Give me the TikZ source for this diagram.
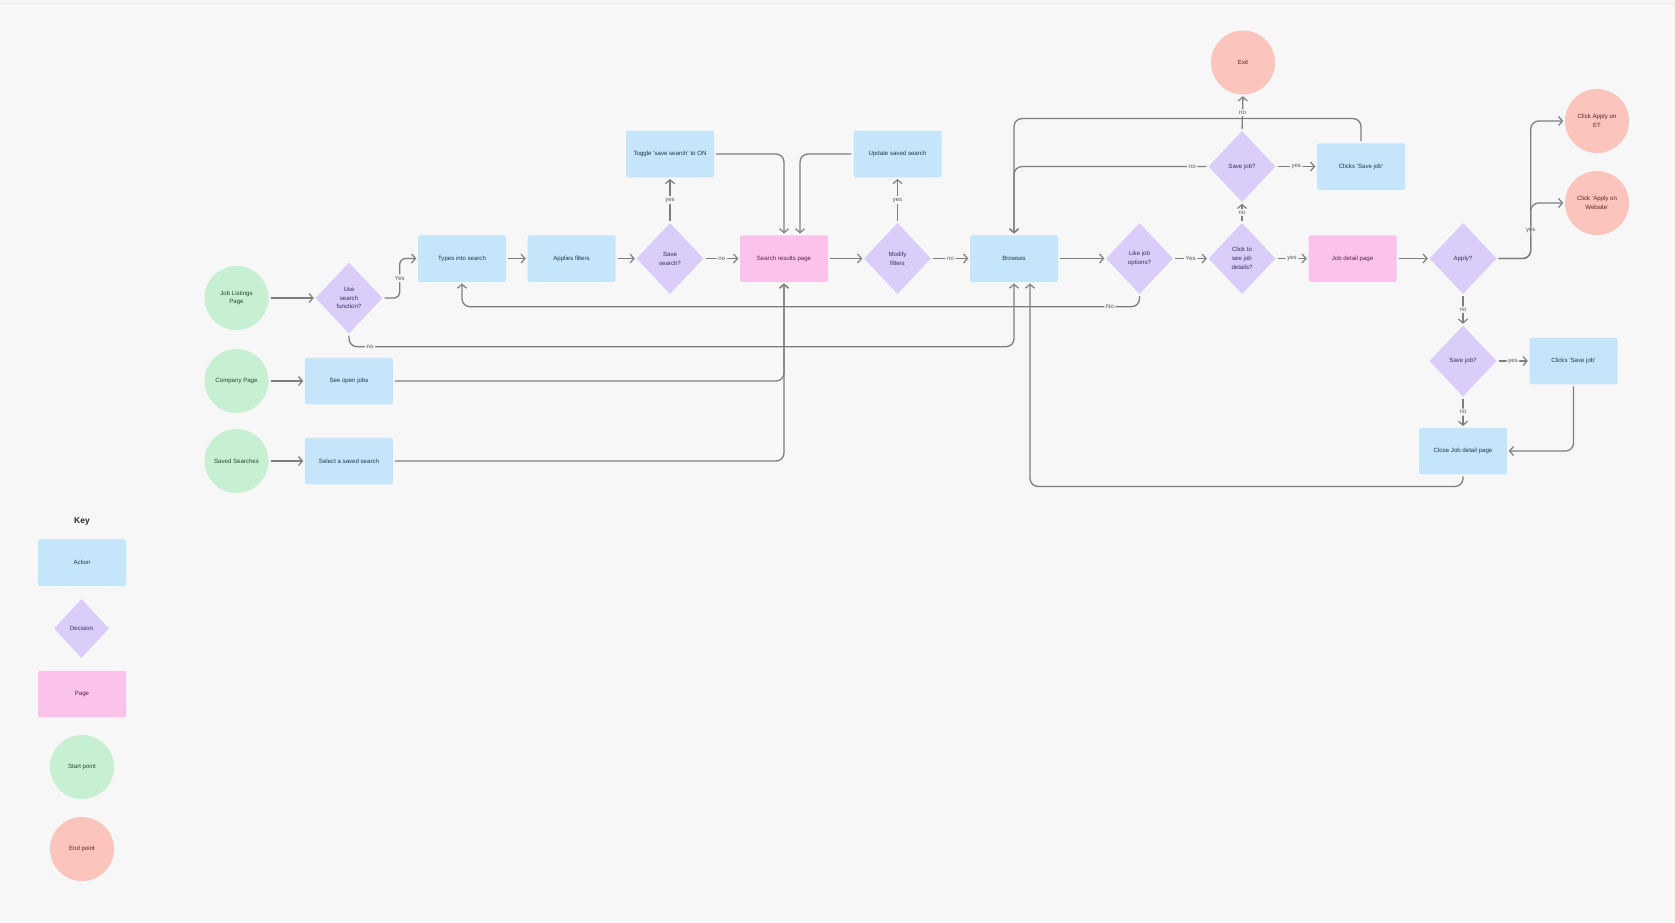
\documentclass[tikz,border=0pt]{standalone}
\usepackage{fontspec}
\setmainfont{Liberation Sans}
\usetikzlibrary{shapes.geometric,arrows.meta}

\definecolor{bg}{HTML}{F7F7F7}
\definecolor{actfill}{HTML}{C5E5FB}
\definecolor{decfill}{HTML}{DACDFA}
\definecolor{pagefill}{HTML}{FBC3EC}
\definecolor{startfill}{HTML}{C7EFD1}
\definecolor{endfill}{HTML}{FBC5BE}
\definecolor{acttext}{HTML}{1F3550}
\definecolor{dectext}{HTML}{3A2A66}
\definecolor{pagetext}{HTML}{5A1E48}
\definecolor{starttext}{HTML}{1F4A2B}
\definecolor{endtext}{HTML}{5C2020}
\definecolor{wire}{HTML}{7E7E7E}

\tikzset{
 base/.style={font=\fontsize{6.1}{8.8}\selectfont, align=center, inner sep=0pt},
 action/.style={base, rectangle, rounded corners=1.5pt, fill=actfill, text=acttext, minimum width=88pt, minimum height=46.5pt},
 pagebox/.style={action, fill=pagefill, text=pagetext},
 decision/.style={base, diamond, fill=decfill, text=dectext, minimum width=67pt, minimum height=71pt},
 startpt/.style={base, circle, fill=startfill, text=starttext, minimum size=64pt},
 endpt/.style={base, circle, fill=endfill, text=endtext, minimum size=64pt},
 flow/.style={draw=wire, line width=1.3pt, rounded corners=8pt, -{Straight Barb[length=4pt,width=9pt,line width=1.2pt]}, shorten <=2pt, shorten >=1.5pt},
 lbl/.style={font=\fontsize{6}{7}\selectfont, text=black!65, fill=bg, inner sep=1.8pt},
 keytitle/.style={font=\bfseries\fontsize{8.5}{10}\selectfont, text=black!85},
}

\begin{document}
\begin{tikzpicture}[x=1pt,y=-1pt]
\fill[bg] (0,0) rectangle (1675,922);
\useasboundingbox (0,0) rectangle (1675,922);
\draw[black!8, line width=1pt] (0,3) -- (1675,3);

% main nodes
\node[startpt] (jl) at (236.5,298) {Job Listings\\Page};
\node[decision] (use) at (349,298) {Use\\search\\function?};
\node[action] (types) at (462,258.5) {Types into search};
\node[action] (filt) at (571.5,258.5) {Applies filters};
\node[decision] (savs) at (670,258.5) {Save\\search?};
\node[action] (toggle) at (670,154) {Toggle ‘save search’ to ON};
\node[pagebox] (srp) at (784,258.5) {Search results page};
\node[decision] (modf) at (897.5,258.5) {Modify\\filters};
\node[action] (upd) at (897.5,154) {Update saved search};
\node[action] (brw) at (1014,258.5) {Browses};
\node[decision] (like) at (1139.5,258.5) {Like job\\options?};
\node[decision] (see) at (1242,258.5) {Click to\\see job\\details?};
\node[pagebox] (jdp) at (1352.5,258.5) {Job detail page};
\node[decision] (sj1) at (1242,166.5) {Save job?};
\node[action] (csj1) at (1361,166.5) {Clicks ‘Save job’};
\node[endpt] (exit) at (1243,62.5) {Exit};
\node[decision] (apply) at (1463,258.5) {Apply?};
\node[endpt] (et) at (1597,121) {Click Apply on\\ET};
\node[endpt] (web) at (1597,203) {Click ‘Apply on\\Website’};
\node[decision] (sj2) at (1463,361) {Save job?};
\node[action] (csj2) at (1573.5,361) {Clicks ‘Save job’};
\node[action] (close) at (1463,451) {Close Job detail page};
\node[startpt] (comp) at (236.5,381) {Company Page};
\node[action] (open) at (349,381) {See open jobs};
\node[startpt] (saved) at (236.5,461) {Saved Searches};
\node[action] (sel) at (349,461) {Select a saved search};

% key
\node[keytitle] (keyt) at (82,521) {Key};
\node[action] (k1) at (82,562.5) {Action};
\node[decision, minimum width=55pt, minimum height=59pt] (k2) at (81.5,628.5) {Decision};
\node[pagebox] (k3) at (82,694) {Page};
\node[startpt] (k4) at (82,767) {Start point};
\node[endpt] (k5) at (82,849) {End point};

% connectors
\draw[flow] (jl.east) -- (use.west);
\draw[flow, rounded corners=6pt] (use.east) -- ++(17,0) |- node[lbl,pos=0.25]{Yes} (types.west);
\draw[flow] (types.east) -- (filt.west);
\draw[flow] (filt.east) -- (savs.west);
\draw[flow] (savs.north) -- node[lbl]{yes} (toggle.south);
\draw[flow] (savs.east) -- node[lbl]{no} (srp.west);
\draw[flow] (toggle.east) -| (srp.north);
\draw[flow] (upd.west) -| ([xshift=16pt]srp.north);
\draw[flow] (srp.east) -- (modf.west);
\draw[flow] (modf.north) -- node[lbl]{yes} (upd.south);
\draw[flow] (modf.east) -- node[lbl]{no} (brw.west);
\draw[flow] (brw.east) -- (like.west);
\draw[flow] (like.east) -- node[lbl]{Yes} (see.west);
\draw[flow] (see.east) -- node[lbl]{yes} (jdp.west);
\draw[flow] (see.north) -- node[lbl]{no} (sj1.south);
\draw[flow] (sj1.north) -- node[lbl]{no} (exit.south);
\draw[flow] (sj1.east) -- node[lbl]{yes} (csj1.west);
\draw[flow] (csj1.north) -- ++(0,-24.5) -| (brw.north);
\draw[flow] (sj1.west) -- node[lbl]{no} ++(-32,0) -| (brw.north);
\draw[flow] (like.south) -- ++(0,12.5) -- node[lbl]{No} ++(-59,0) -| (types.south);
\draw[flow] (use.south) -- ++(0,13) -- node[lbl]{no} ++(42,0) -| (brw.south);
\draw[flow] (open.east) -| (srp.south);
\draw[flow] (sel.east) -| (srp.south);
\draw[flow] (comp.east) -- (open.west);
\draw[flow] (saved.east) -- (sel.west);
\draw[flow] (jdp.east) -- (apply.west);
\draw[flow] (apply.east) -- ++(34,0) |- node[lbl,pos=0.1]{yes} (et.west);
\draw[flow] (apply.east) -- ++(34,0) |- (web.west);
\draw[flow] (apply.south) -- node[lbl]{no} (sj2.north);
\draw[flow] (sj2.east) -- node[lbl]{yes} (csj2.west);
\draw[flow] (sj2.south) -- node[lbl]{no} (close.north);
\draw[flow] (csj2.south) |- (close.east);
\draw[flow] (close.south) -- ++(0,12) -| ([xshift=16pt]brw.south);
\end{tikzpicture}
\end{document}
